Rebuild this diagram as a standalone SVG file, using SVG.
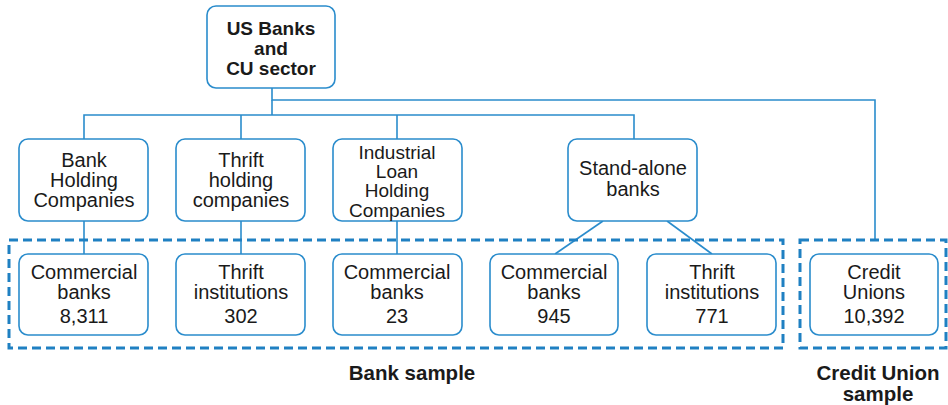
<svg xmlns="http://www.w3.org/2000/svg" width="948" height="405" viewBox="0 0 948 405">
<style>
.box{fill:#fff;stroke:#2a8ccc;stroke-width:1.6}
.dash{fill:none;stroke:#1f80c2;stroke-width:3;stroke-dasharray:9 5}
.ln{fill:none;stroke:#2a8ccc;stroke-width:1.6}
text{font-family:"Liberation Sans",Arial,sans-serif;font-size:20px;fill:#1a1a1a;text-anchor:middle}
.s{font-size:19px}
.b{font-weight:bold;font-size:19px}
.lb{font-weight:bold;font-size:20.5px}
</style>
<rect width="948" height="405" fill="#fff"/>
<g id="connectors">
<polyline class="ln" points="272,88 272,100 875,100 875,240"/>
<line class="ln" x1="272" y1="100" x2="272" y2="115"/>
<polyline class="ln" points="84,139 84,115 634,115 634,139"/>
<line class="ln" x1="241" y1="115" x2="241" y2="139"/>
<line class="ln" x1="397" y1="115" x2="397" y2="139"/>
<line class="ln" x1="84" y1="221" x2="84" y2="254"/>
<line class="ln" x1="241" y1="221" x2="241" y2="254"/>
<line class="ln" x1="397" y1="221" x2="397" y2="254"/>
<line class="ln" x1="603" y1="221" x2="555" y2="254"/>
<line class="ln" x1="667" y1="221" x2="712" y2="254"/>
</g>
<g id="bank-sample-group">
<rect class="dash" x="9" y="240" width="774" height="108"/>
<text class="lb" x="412" y="380">Bank sample</text>
</g>
<g id="cu-sample-group">
<rect class="dash" x="800" y="240" width="146" height="108"/>
<text class="lb" x="878" y="380">Credit Union</text>
<text class="lb" x="878" y="401">sample</text>
</g>
<g id="root">
<rect class="box" x="207" y="6" width="128" height="82" rx="9"/>
<text class="b" x="271" y="35">US Banks</text>
<text class="b" x="271" y="55">and</text>
<text class="b" x="271" y="75">CU sector</text>
</g>
<g id="bhc">
<rect class="box" x="19" y="139" width="129" height="82" rx="9"/>
<text x="84" y="167">Bank</text>
<text x="84" y="187">Holding</text>
<text x="84" y="207">Companies</text>
</g>
<g id="thc">
<rect class="box" x="176" y="139" width="129" height="82" rx="9"/>
<text x="241" y="167">Thrift</text>
<text x="241" y="187">holding</text>
<text x="241" y="207">companies</text>
</g>
<g id="ilhc">
<rect class="box" x="333" y="139" width="129" height="82" rx="9"/>
<text class="s" x="397" y="159">Industrial</text>
<text class="s" x="397" y="178">Loan</text>
<text class="s" x="397" y="197">Holding</text>
<text class="s" x="397" y="217">Companies</text>
</g>
<g id="standalone">
<rect class="box" x="568" y="139" width="129" height="82" rx="9"/>
<text x="633" y="175">Stand-alone</text>
<text x="633" y="196">banks</text>
</g>
<g id="cb1">
<rect class="box" x="19" y="254" width="129" height="81" rx="9"/>
<text x="84" y="279">Commercial</text>
<text x="84" y="299">banks</text>
<text x="84" y="323">8,311</text>
</g>
<g id="ti1">
<rect class="box" x="176" y="254" width="129" height="81" rx="9"/>
<text x="241" y="279">Thrift</text>
<text x="241" y="299">institutions</text>
<text x="241" y="323">302</text>
</g>
<g id="cb2">
<rect class="box" x="333" y="254" width="129" height="81" rx="9"/>
<text x="397" y="279">Commercial</text>
<text x="397" y="299">banks</text>
<text x="397" y="323">23</text>
</g>
<g id="cb3">
<rect class="box" x="490" y="254" width="128" height="81" rx="9"/>
<text x="554" y="279">Commercial</text>
<text x="554" y="299">banks</text>
<text x="554" y="323">945</text>
</g>
<g id="ti2">
<rect class="box" x="647" y="254" width="129" height="81" rx="9"/>
<text x="712" y="279">Thrift</text>
<text x="712" y="299">institutions</text>
<text x="712" y="323">771</text>
</g>
<g id="cu">
<rect class="box" x="810" y="254" width="128" height="81" rx="9"/>
<text x="874" y="279">Credit</text>
<text x="874" y="299">Unions</text>
<text x="874" y="323">10,392</text>
</g>
</svg>
